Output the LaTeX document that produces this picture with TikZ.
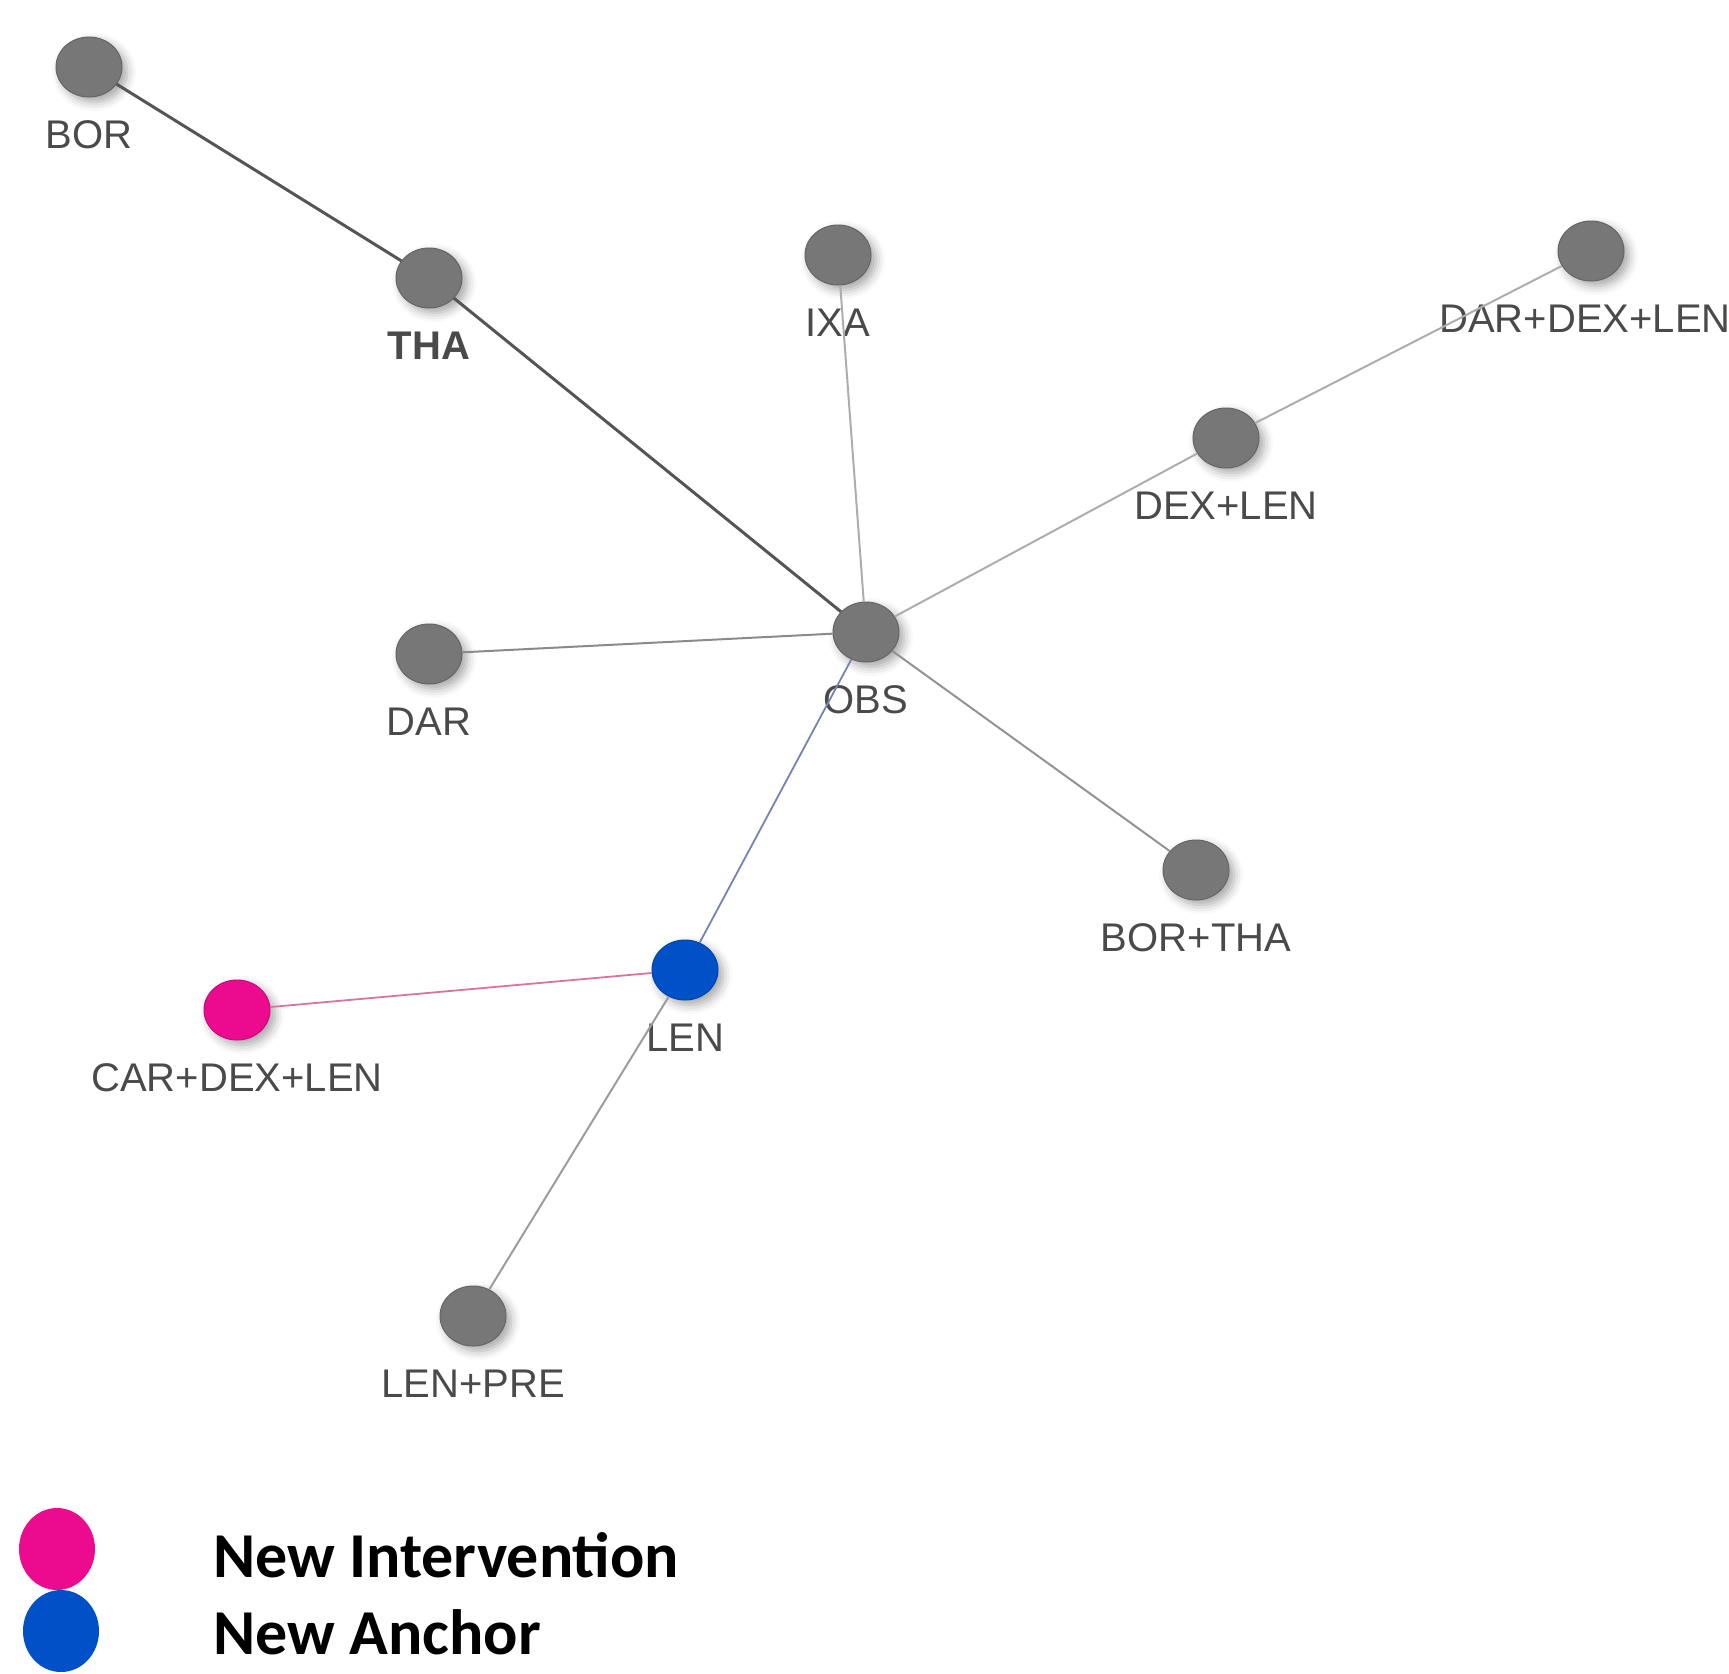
\documentclass[tikz,border=0pt]{standalone}
\usepackage{fontspec}
\setmainfont{Liberation Sans}
\newfontfamily\legendfont{Carlito}
\usepackage{tikz}
\usetikzlibrary{positioning, shapes.geometric, shadows.blur}
\definecolor{nwgray}{HTML}{777777}
\definecolor{nwdark}{HTML}{555555}
\definecolor{nwlight}{HTML}{ADADAD}
\definecolor{nwtext}{HTML}{4A4A4A}
\definecolor{nwblue}{HTML}{0050C8}
\definecolor{nwpink}{HTML}{EC0A8F}
\definecolor{nwblueline}{HTML}{7384B4}
\definecolor{nwpinkline}{HTML}{D9739F}

\begin{document}
\begin{tikzpicture}[
  x=1pt, y=-1pt,
  trt/.style={ellipse, fill=#1, draw=#1!85!black, line width=1pt,
    minimum width=66pt, minimum height=60pt, inner sep=0pt,
    blur shadow={shadow xshift=5pt, shadow yshift=-5pt,
      shadow blur radius=9pt, shadow opacity=35}},
  trt/.default=nwgray,
  lbl/.style={font=\fontsize{40}{44}\selectfont, text=nwtext, inner sep=0pt},
  strong/.style={draw=nwdark, line width=3pt},
  weak/.style={draw=nwlight, line width=2pt},
  keydot/.style={ellipse, fill=#1, minimum width=76pt, minimum height=82pt, inner sep=0pt},
  keytxt/.style={font=\legendfont\bfseries\fontsize{64}{72}\selectfont, inner sep=0pt, anchor=base west},
  node distance=23pt,
]
  \path[use as bounding box] (0,0) rectangle (1729,1673);
  \clip (0,0) rectangle (1729,1673);

  % treatments
  \node[trt] (bor) at (89,67) {};
  \node[lbl, below=of bor] (borl) {BOR};
  \node[trt] (tha) at (429,278) {};
  \node[lbl, below=of tha, font=\fontsize{40}{44}\selectfont\bfseries] (thal) {THA};
  \node[trt] (ixa) at (838,255) {};
  \node[lbl, below=of ixa] (ixal) {IXA};
  \node[trt] (ddl) at (1591,251) {};
  \node[lbl, below=of ddl, xshift=-6pt] (ddll) {DAR+DEX+LEN};
  \node[trt] (dexlen) at (1226,438) {};
  \node[lbl, below=of dexlen] (dexlenl) {DEX+LEN};
  \node[trt] (dar) at (429,654) {};
  \node[lbl, below=of dar] (darl) {DAR};
  \node[trt] (obs) at (866,632) {};
  \node[lbl, below=of obs] (obsl) {OBS};
  \node[trt] (bortha) at (1196,870) {};
  \node[lbl, below=of bortha] (borthal) {BOR+THA};
  \node[trt=nwblue] (len) at (685,970) {};
  \node[lbl, below=of len] (lenl) {LEN};
  \node[trt=nwpink] (cdl) at (237,1010) {};
  \node[lbl, below=of cdl] (cdll) {CAR+DEX+LEN};
  \node[trt] (lenpre) at (473,1316) {};
  \node[lbl, below=of lenpre] (lenprel) {LEN+PRE};

  % comparisons
  \draw[strong] (bor) -- (tha);
  \draw[strong] (tha) -- (obs);
  \draw[weak] (ixa) -- (obs);
  \draw[weak] (dexlen) -- (obs);
  \draw[weak] (ddl) -- (dexlen);
  \draw[weak, draw=nwlight!80!black] (dar) -- (obs);
  \draw[weak, draw=nwlight!85!black] (bortha) -- (obs);
  \draw[draw=nwblueline, line width=1.8pt] (obs) -- (len);
  \draw[draw=nwpinkline, line width=1.8pt] (len) -- (cdl);
  \draw[weak, draw=nwlight!90!black] (len) -- (lenpre);

  % legend
  \node[keydot=nwpink] (keyint) at (57,1549) {};
  \node[keytxt] (txtint) at (213,1577) {New Intervention};
  \node[keydot=nwblue] (keyanc) at (61,1631) {};
  \node[keytxt] (txtanc) at (213,1654) {New Anchor};
\end{tikzpicture}
\end{document}
